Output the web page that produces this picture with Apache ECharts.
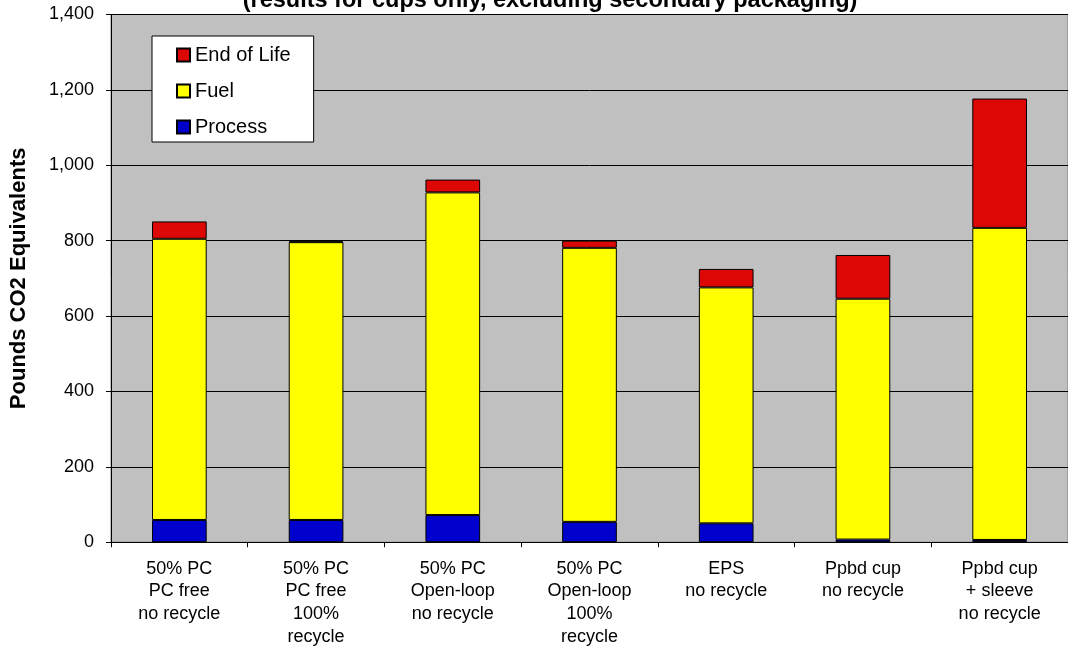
<!DOCTYPE html>
<html>
<head>
<meta charset="utf-8">
<script src="https://cdn.jsdelivr.net/npm/echarts@6/dist/echarts.min.js"></script>
<style>
  html, body { margin: 0; padding: 0; background: #fff; }
  #chart { width: 1068px; height: 648px; }
</style>
</head>
<body>
<div id="chart"></div>
<script>
// Cup scenarios along the x axis
const categories = [
  '50% PC\nPC free\nno recycle',
  '50% PC\nPC free\n100%\nrecycle',
  '50% PC\nOpen-loop\nno recycle',
  '50% PC\nOpen-loop\n100%\nrecycle',
  'EPS\nno recycle',
  'Ppbd cup\nno recycle',
  'Ppbd cup\n+ sleeve\nno recycle'
];

// Stacked components, pounds CO2 equivalents
const processValues = [59, 59, 72, 54, 50, 7, 6];
const fuelValues    = [746, 737, 856, 727, 626, 639, 828];
const endOfLife     = [46, 2, 34, 19, 49, 116, 343];

const yTicks = { min: 0, max: 1400, interval: 200 };
const subtitle = '(results for cups only, excluding secondary packaging)';
const yAxisTitle = 'Pounds CO2 Equivalents';

const FONT = '"Liberation Sans", Arial, sans-serif';
const chart = echarts.init(document.getElementById('chart'));

function stack(name, data, color) {
  return {
    name: name,
    type: 'bar',
    stack: 'total',
    data: data,
    barWidth: '40%',
    itemStyle: { color: color, borderColor: '#000', borderWidth: 1 }
  };
}

chart.setOption({
  animation: false,
  backgroundColor: '#fff',
  textStyle: { fontFamily: FONT },
  graphic: [{
    type: 'text',
    x: 550,
    y: -11,
    style: {
      text: subtitle,
      font: 'bold 23.5px ' + FONT,
      fill: '#000',
      align: 'center',
      verticalAlign: 'top'
    }
  }],
  grid: {
    left: 109, width: 967, top: 14.5, height: 528.5,
    show: true, backgroundColor: '#c0c0c0',
    borderColor: '#808080', borderWidth: 1
  },
  legend: {
    orient: 'vertical',
    left: 152, top: 36,
    backgroundColor: '#fff',
    borderColor: '#000', borderWidth: 1,
    padding: [9, 23, 5, 24],
    itemWidth: 13, itemHeight: 13,
    itemGap: 16,
    icon: 'rect',
    textStyle: { fontSize: 20, lineHeight: 20, color: '#000', fontFamily: FONT },
    data: ['End of Life', 'Fuel', 'Process']
  },
  xAxis: {
    type: 'category',
    data: categories,
    axisLine: { lineStyle: { color: '#000', width: 1 } },
    axisTick: { show: true, length: 5, alignWithLabel: false, lineStyle: { color: '#000' } },
    axisLabel: {
      interval: 0, margin: 15, fontSize: 18, lineHeight: 22.7,
      color: '#000', fontFamily: FONT, align: 'center'
    },
    splitLine: { show: false }
  },
  yAxis: {
    type: 'value',
    min: yTicks.min, max: yTicks.max, interval: yTicks.interval,
    name: yAxisTitle,
    nameLocation: 'middle',
    nameRotate: 90,
    nameGap: 81,
    nameTextStyle: { fontSize: 22, fontWeight: 'bold', color: '#000', fontFamily: FONT },
    axisLine: { show: true, lineStyle: { color: '#000', width: 1 } },
    axisTick: { show: true, length: 5, inside: false, lineStyle: { color: '#000' } },
    axisLabel: {
      fontSize: 18, color: '#000', margin: 17, fontFamily: FONT,
      formatter: v => v.toLocaleString('en-US')
    },
    splitLine: { show: true, lineStyle: { color: '#000', width: 1 } }
  },
  series: [
    stack('Process', processValues, '#0000cc'),
    stack('Fuel', fuelValues, '#ffff00'),
    stack('End of Life', endOfLife, '#dd0806')
  ]
});
</script>
</body>
</html>
